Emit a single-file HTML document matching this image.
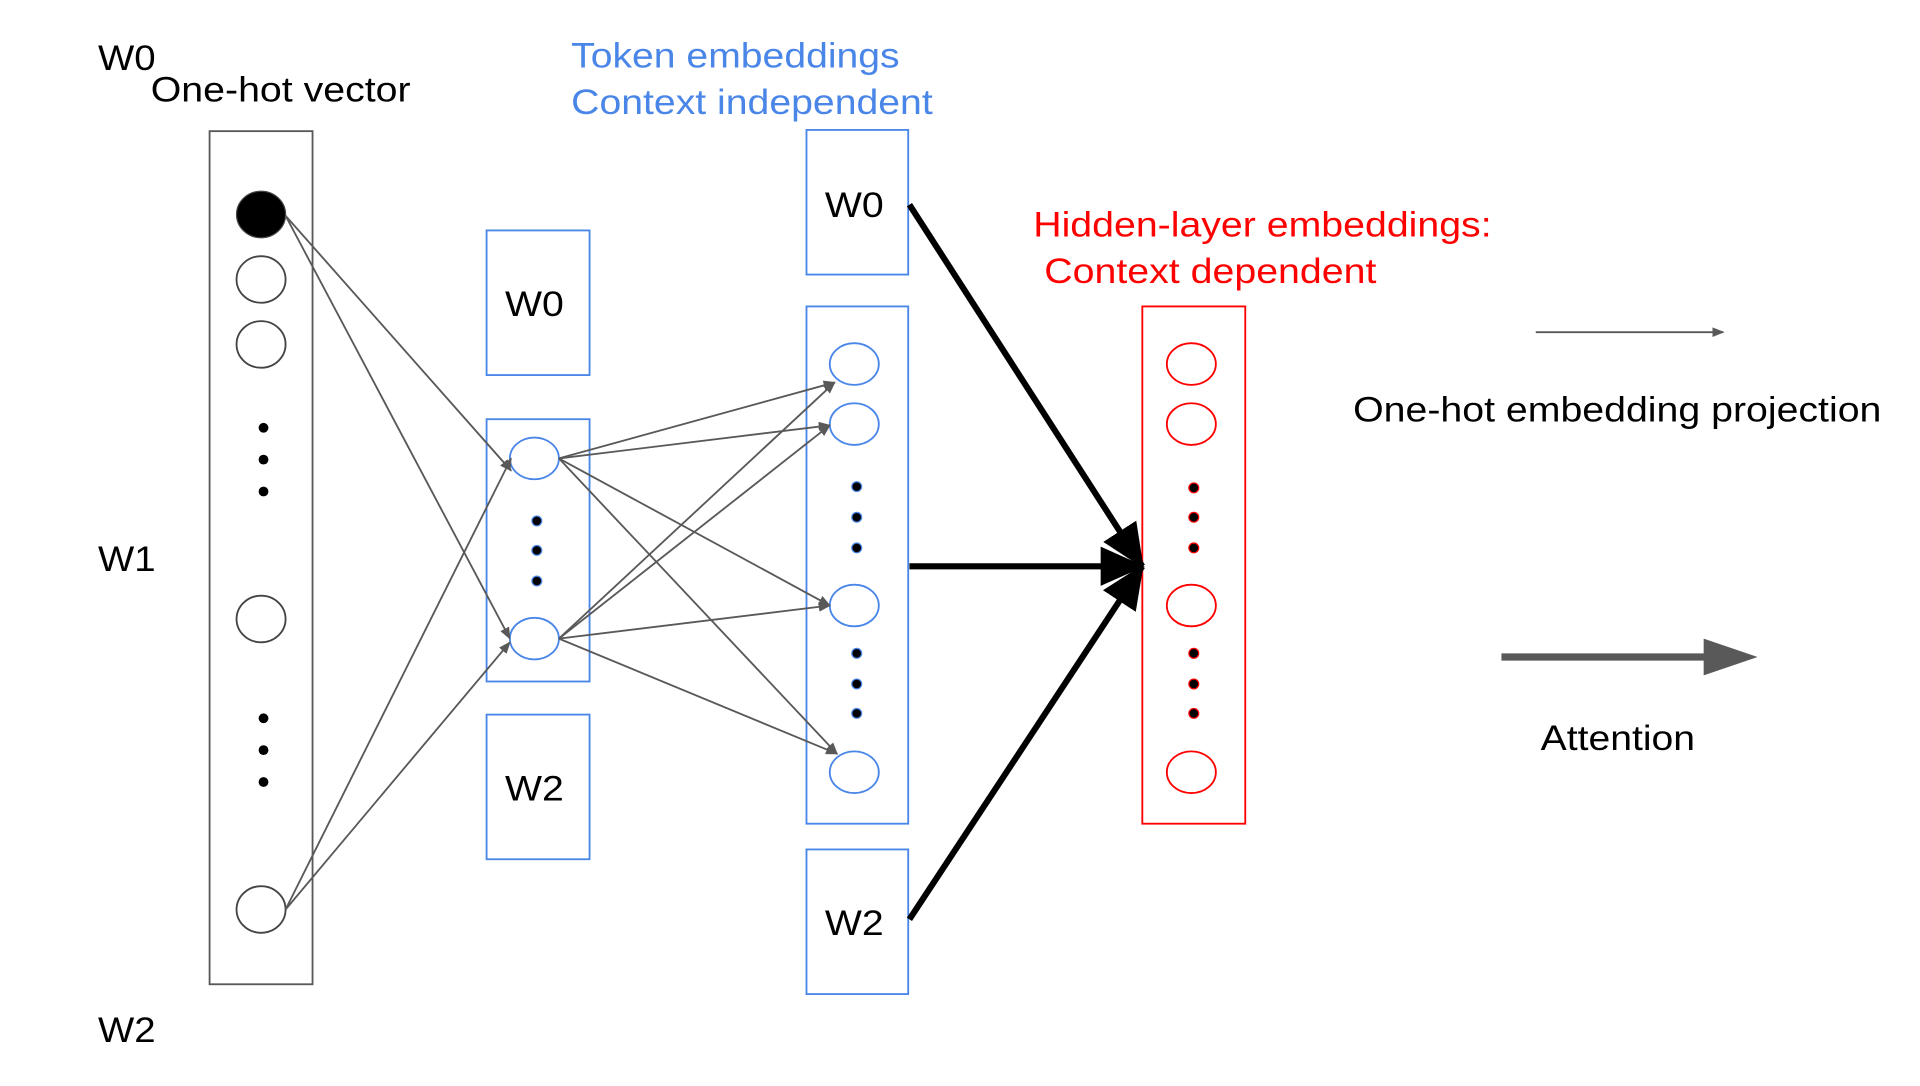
<!DOCTYPE html>
<html><head><meta charset="utf-8"><style>
html,body{margin:0;padding:0;background:#fff;width:1920px;height:1086px;overflow:hidden}
svg{display:block}
text{font-family:"Liberation Sans",Arial,sans-serif}
</style></head><body>
<svg width="1920" height="1086" viewBox="0 0 1566.5 886" preserveAspectRatio="none" xmlns="http://www.w3.org/2000/svg">
<defs>
<marker id="sa" markerWidth="10" markerHeight="8" refX="9" refY="4" orient="auto" markerUnits="userSpaceOnUse"><path d="M0,0 L10,4 L0,8 z" fill="#595959"/></marker>
<marker id="ba" markerWidth="36" markerHeight="36" refX="34" refY="18" orient="auto" markerUnits="userSpaceOnUse"><path d="M0,2 L36,18 L0,34 z" fill="#000"/></marker>
</defs>
<g font-size="29" fill="#000" lengthAdjust="spacingAndGlyphs">
<text x="80" y="57" textLength="47" lengthAdjust="spacingAndGlyphs">W0</text>
<text x="123" y="83" textLength="212" lengthAdjust="spacingAndGlyphs">One-hot vector</text>
<text x="80" y="466" textLength="47" lengthAdjust="spacingAndGlyphs">W1</text>
<text x="80" y="850" textLength="47" lengthAdjust="spacingAndGlyphs">W2</text>
<text x="1104" y="344" textLength="431" lengthAdjust="spacingAndGlyphs">One-hot embedding projection</text>
<text x="1257" y="612" textLength="126" lengthAdjust="spacingAndGlyphs">Attention</text>
</g>
<g font-size="29" fill="#4a86e8">
<text x="466" y="55" textLength="268" lengthAdjust="spacingAndGlyphs">Token embeddings</text>
<text x="466" y="93" textLength="295" lengthAdjust="spacingAndGlyphs">Context independent</text>
</g>
<g font-size="29" fill="#ff0000">
<text x="843" y="193" textLength="374" lengthAdjust="spacingAndGlyphs">Hidden-layer embeddings:</text>
<text x="852" y="231" textLength="271" lengthAdjust="spacingAndGlyphs">Context dependent</text>
</g>
<rect x="171" y="107" width="84" height="696" fill="none" stroke="#595959" stroke-width="1.5"/>
<ellipse cx="213" cy="175" rx="20" ry="19" fill="#000" stroke="#444"/>
<g fill="none" stroke="#444" stroke-width="1.5">
<ellipse cx="213" cy="228" rx="20" ry="19"/>
<ellipse cx="213" cy="281" rx="20" ry="19"/>
<ellipse cx="213" cy="505" rx="20" ry="19"/>
<ellipse cx="213" cy="742" rx="20" ry="19"/>
</g>
<g fill="#000">
<circle cx="215" cy="349" r="4"/><circle cx="215" cy="375" r="4"/><circle cx="215" cy="401" r="4"/>
<circle cx="215" cy="586" r="4"/><circle cx="215" cy="612" r="4"/><circle cx="215" cy="638" r="4"/>
</g>
<g fill="none" stroke="#4a86e8" stroke-width="1.5">
<rect x="397" y="188" width="84" height="118"/>
<rect x="397" y="342" width="84" height="214"/>
<rect x="397" y="583" width="84" height="118"/>
<ellipse cx="436" cy="374" rx="20" ry="17"/>
<ellipse cx="436" cy="521" rx="20" ry="17"/>
<rect x="658" y="106" width="83" height="118"/>
<rect x="658" y="250" width="83" height="422"/>
<rect x="658" y="693" width="83" height="118"/>
<ellipse cx="697" cy="297" rx="20" ry="17"/>
<ellipse cx="697" cy="346" rx="20" ry="17"/>
<ellipse cx="697" cy="494" rx="20" ry="17"/>
<ellipse cx="697" cy="630" rx="20" ry="17"/>
</g>
<g fill="#000" stroke="#4a86e8" stroke-width="1">
<circle cx="438" cy="425" r="4"/><circle cx="438" cy="449" r="4"/><circle cx="438" cy="474" r="4"/>
<circle cx="699" cy="397" r="4"/><circle cx="699" cy="422" r="4"/><circle cx="699" cy="447" r="4"/>
<circle cx="699" cy="533" r="4"/><circle cx="699" cy="558" r="4"/><circle cx="699" cy="582" r="4"/>
</g>
<g font-size="29" fill="#000" text-anchor="middle">
<text x="436" y="258" textLength="48" lengthAdjust="spacingAndGlyphs">W0</text>
<text x="436" y="653" textLength="48" lengthAdjust="spacingAndGlyphs">W2</text>
<text x="697" y="177" textLength="48" lengthAdjust="spacingAndGlyphs">W0</text>
<text x="697" y="763" textLength="48" lengthAdjust="spacingAndGlyphs">W2</text>
</g>
<g fill="none" stroke="#ff0000" stroke-width="1.5">
<rect x="932" y="250" width="84" height="422"/>
<ellipse cx="972" cy="297" rx="20" ry="17"/>
<ellipse cx="972" cy="346" rx="20" ry="17"/>
<ellipse cx="972" cy="494" rx="20" ry="17"/>
<ellipse cx="972" cy="630" rx="20" ry="17"/>
</g>
<g fill="#000" stroke="#ff0000" stroke-width="1">
<circle cx="974" cy="398" r="4"/><circle cx="974" cy="422" r="4"/><circle cx="974" cy="447" r="4"/>
<circle cx="974" cy="533" r="4"/><circle cx="974" cy="558" r="4"/><circle cx="974" cy="582" r="4"/>
</g>
<g stroke="#595959" stroke-width="1.5" marker-end="url(#sa)" fill="none">
<line x1="233" y1="176" x2="417" y2="384"/>
<line x1="233" y1="176" x2="416" y2="521"/>
<line x1="233" y1="742" x2="417" y2="374"/>
<line x1="233" y1="742" x2="416" y2="524"/>
<line x1="456" y1="374" x2="681" y2="312"/>
<line x1="456" y1="374" x2="677" y2="347"/>
<line x1="456" y1="374" x2="677" y2="494"/>
<line x1="456" y1="374" x2="683" y2="615"/>
<line x1="456" y1="521" x2="681" y2="312"/>
<line x1="456" y1="521" x2="677" y2="347"/>
<line x1="456" y1="521" x2="677" y2="494"/>
<line x1="456" y1="521" x2="683" y2="615"/>
<line x1="1253" y1="271" x2="1406" y2="271"/>
</g>
<g stroke="#000" stroke-width="5" marker-end="url(#ba)" fill="none">
<line x1="742" y1="167" x2="932" y2="462"/>
<line x1="742" y1="462" x2="932" y2="462"/>
<line x1="742" y1="750" x2="932" y2="462"/>
</g>
<line x1="1225" y1="536" x2="1392" y2="536" stroke="#595959" stroke-width="6"/>
<path d="M1390,521 L1434,536 L1390,551 z" fill="#595959"/>
</svg>
</body></html>
